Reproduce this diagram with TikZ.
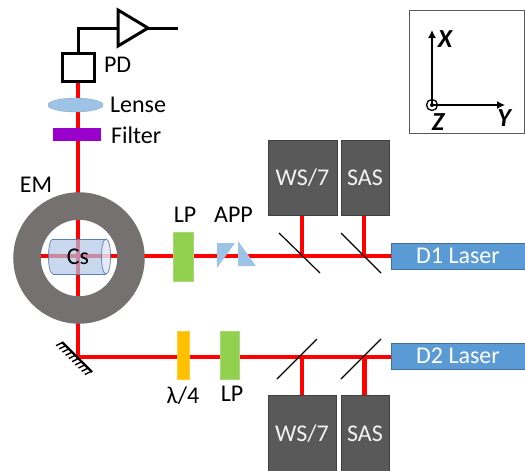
\documentclass[tikz,border=0pt]{standalone}
\usepackage{fontspec}
\setmainfont{Carlito}
\usetikzlibrary{arrows.meta,backgrounds,shapes.geometric}
\definecolor{beamred}{HTML}{FF0000}
\definecolor{boxgray}{HTML}{595959}
\definecolor{boxedge}{HTML}{404040}
\definecolor{ringgray}{HTML}{767171}
\definecolor{lpgreen}{HTML}{92D050}
\definecolor{qwporange}{HTML}{FFC000}
\definecolor{laserblue}{HTML}{5B9BD5}
\definecolor{laseredge}{HTML}{41719C}
\definecolor{lensblue}{HTML}{9DC3E6}
\definecolor{filterpurple}{HTML}{9900CC}
\definecolor{cellblue}{HTML}{B4C7E7}
\definecolor{celledge}{HTML}{5B7DB8}
\tikzset{
  x=1pt,y=-1pt,
  every node/.style={inner sep=0pt,outer sep=0pt,font=\fontsize{24}{28}\selectfont},
  lab/.style={text=black},
  beam/.style={draw=beamred,line width=4.4pt},
  wire/.style={draw=black,line width=3pt},
  splitter/.style={draw=black,line width=1.2pt},
  blackbox/.style={rectangle,fill=boxgray,draw=boxedge,line width=.8pt,text=white!95!black,minimum height=75pt},
  laser/.style={rectangle,fill=laserblue,draw=laseredge,line width=.8pt,text=white,minimum width=134pt,minimum height=26pt},
  lp/.style={rectangle,fill=lpgreen,draw=lpgreen!80!white,line width=.6pt,minimum width=19.5pt},
  axisline/.style={draw=black,line width=1.4pt,-{Latex[length=8pt,width=8pt]}},
  axislab/.style={font=\fontsize{26}{28}\selectfont\bfseries\itshape},
  prism/.style={fill=lensblue,draw=none},
}
\begin{document}
\begin{tikzpicture}
\useasboundingbox (0,0) rectangle (525,471);
% axes
\draw[draw=black!65,line width=1pt,fill=white] (409,10) rectangle (524,133);
\coordinate (org) at (432,105);
\coordinate (xtip) at (432,30);
\coordinate (ytip) at (505,105);
\draw[axisline] (org) -- (xtip);
\draw[axisline] (org) -- (ytip);
\node[draw=black,line width=1.3pt,circle,minimum size=11pt] (zc) at (org) {};
\fill[black] (org) circle (2pt);
\node[axislab] (xl) at (445,39) {X};
\node[axislab] (yl) at (504,118) {Y};
\node[axislab] (zl) at (438,122) {Z};
% detection
\node[draw=black,line width=3pt,minimum width=32pt,minimum height=28pt] (pd) at (78,67.5) {};
\node[lab,anchor=west] at (104,65) {PD};
\node[ellipse,fill=lensblue,draw=lensblue!80!black,line width=.3pt,minimum width=55pt,minimum height=14pt] (lens) at (75.5,105) {};
\node[lab,anchor=west] at (110,105) {Lense};
\node[fill=filterpurple,minimum width=48pt,minimum height=13pt] (filter) at (77,134.5) {};
\node[lab,anchor=west] at (111,135) {Filter};
\coordinate (ampin) at (118,28);
\coordinate (ampout) at (148,28);
\coordinate (sigout) at (178,28);
\draw[wire,line join=miter] (118,10) -- (ampout) -- (118,46) -- cycle;
\draw[wire] (pd.north) |- (ampin);
\draw[wire] (ampout) -- (sigout);
% ring
\node[circle,draw=ringgray,line width=27.5pt,minimum size=104pt] (em) at (79,258) {};
\node[lab] at (36,185) {EM};
\coordinate (ctr) at (78,256);
% optics upper
\node[lp,minimum height=49pt] (lpa) at (183.5,256.5) {};
\node[lab] at (185,215) {LP};
\node[lab] at (233.5,215) {APP};
\fill[prism] (217,243) -- (235,243) -- (217,268) -- cycle;
\fill[prism] (238,241) -- (238,266) -- (256,266) -- cycle;
\node[blackbox,minimum width=69pt] (wsa) at (302.5,177.5) {WS/7};
\node[blackbox,minimum width=48pt] (sasa) at (365,177.5) {SAS};
\node[laser] (d1) at (458,256) {D1 Laser};
\coordinate (sa1) at (302,256);
\coordinate (sa2) at (364,256);
% optics lower
\node[fill=qwporange,draw=qwporange!80!white,line width=.5pt,minimum width=12pt,minimum height=48pt] (qwp) at (183,355) {};
\node[lab] at (183,396) {λ/4};
\node[lp,minimum height=48pt] (lpb) at (230,355) {};
\node[lab] at (232,394) {LP};
\node[blackbox,minimum width=68pt,minimum height=76pt] (wsb) at (302,433.5) {WS/7};
\node[blackbox,minimum width=48pt,minimum height=76pt] (sasb) at (365,433.5) {SAS};
\node[laser] (d2) at (458,356) {D2 Laser};
\coordinate (sb1) at (302,357);
\coordinate (sb2) at (364.5,357);
\coordinate (mir) at (78,357);
% beams
\begin{scope}[on background layer]
\draw[beam] (pd.south -| ctr) -- (ctr |- em.center) -- (mir) -- (mir -| d2.west);
\draw[beam] (41,256) -- (d1.west);
\draw[beam] (sa1) -- (sa1 |- wsa.south);
\draw[beam] (sa2) -- (sa2 |- sasa.south);
\draw[beam] (sb1) -- (sb1 |- wsb.north);
\draw[beam] (sb2) -- (sb2 |- sasb.north);
\end{scope}
% beam splitters
\draw[splitter] (279,233) -- (320,273);
\draw[splitter] (341,233) -- (381,273);
\draw[splitter] (277,379) -- (317,339);
\draw[splitter] (341,379) -- (381,339);
% mirror
\draw[draw=black,line width=2.2pt] (62,342) -- (92,372);
\foreach \i in {0,...,9} {
  \draw[draw=black,line width=1.4pt] ({62.5+\i*3.2},{342.5+\i*3.2}) -- ++(-6.5,3.2);
}
% cell
\fill[cellblue,fill opacity=.7] (53,239) -- (106,239) .. controls (112,239) and (112,274) .. (106,274) -- (53,274) .. controls (47,274) and (47,239) .. (53,239) -- cycle;
\draw[celledge,line width=.7pt] (53,239) -- (106,239) (53,274) -- (106,274);
\draw[celledge,line width=.7pt] (53,239) .. controls (47,239) and (47,274) .. (53,274);
\draw[celledge,line width=.7pt,fill=white,fill opacity=.5] (106,239) .. controls (112,239) and (112,274) .. (106,274) .. controls (100,274) and (100,239) .. (106,239) -- cycle;
\node[lab] at (78,257) {Cs};
\end{tikzpicture}
\end{document}
